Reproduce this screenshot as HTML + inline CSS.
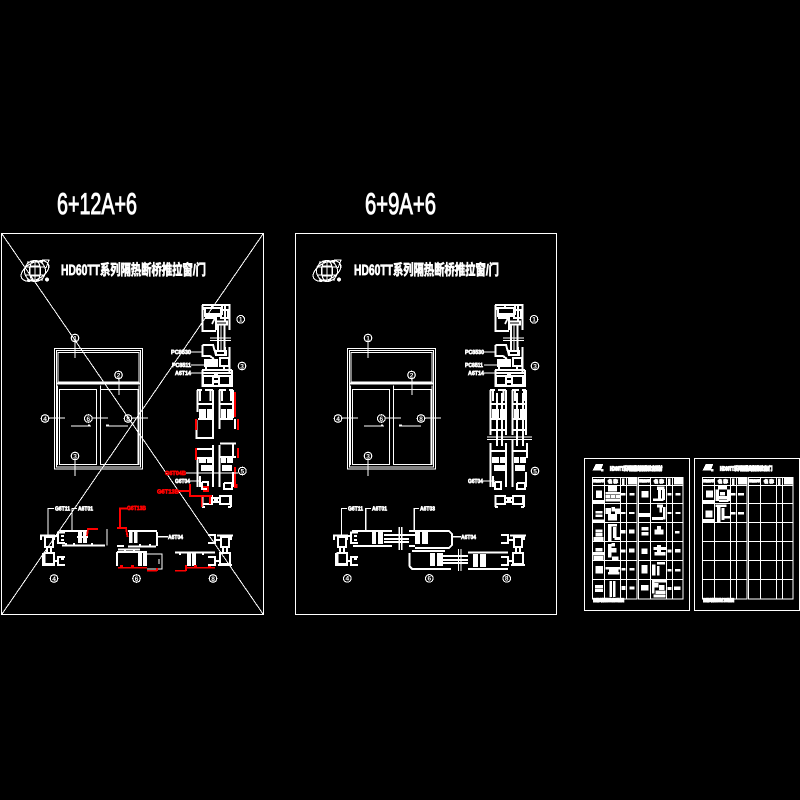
<!DOCTYPE html>
<html><head><meta charset="utf-8"><style>
html,body{margin:0;padding:0;background:#000}
svg{display:block}
svg *{shape-rendering:crispEdges}
.w{stroke:#fff;fill:none;stroke-width:1.2}
.t{stroke:#fff;fill:none;stroke-width:2}
.r{stroke:#f00;fill:none;stroke-width:1.8}
.thin{stroke:#fff;fill:none;stroke-width:1.1}
.ff{fill:#fff;stroke:none}
.rf{fill:#f00;stroke:none}
.blob path,.hb{fill:#fff;stroke:#fff;stroke-width:2.5}
text{font-family:"Liberation Sans","Noto Sans CJK SC",sans-serif;text-rendering:geometricPrecision}
.lb{font-size:6px;font-weight:bold;fill:#fff;stroke:#fff;stroke-width:.7}
.lr{font-size:6px;font-weight:bold;fill:#f00;stroke:#f00;stroke-width:.7}
.d{font-size:6.5px;font-weight:bold;fill:#fff;text-anchor:middle}
.ti{font-size:15px;font-weight:bold;fill:#fff;stroke:#fff;stroke-width:.7}
.big{font-size:30px;fill:#fff;stroke:#fff;stroke-width:1}
</style></head><body>
<svg width="800" height="800" viewBox="0 0 800 800" xmlns="http://www.w3.org/2000/svg">
<defs>
<g id="logo">
<ellipse cx="35" cy="271" rx="15" ry="8.500" transform="rotate(-28 35 271)" class="thin"/>
<circle cx="35" cy="271" r="10.500" class="thin"/>
<ellipse cx="35" cy="271" rx="5.500" ry="10.500" class="thin"/>
<path class="thin" d="M25 267H45M25 275H45M35 260V282M30 266H40V276H30ZM42 260H49L46 268M27 262H43M27 280H43"/>
<circle cx="47" cy="279.500" r="2" class="ff"/>
</g>
<g id="win">
<rect x="54.500" y="348.500" width="88" height="120.500" class="w"/>
<rect x="56.500" y="350.500" width="84" height="116.500" class="w"/>
<rect x="58" y="352.500" width="81" height="29.500" class="w"/>
<path class="t" d="M56 383.500H140"/>
<path class="w" d="M57.500 385.500V465M139 385.500V465M100.500 385.500V465"/>
<rect x="59.500" y="389.500" width="37" height="75" class="w"/>
<path class="w" d="M100.500 389.500H138V464.500H100.500"/>
<path class="w" d="M71 426H91M106 426H128"/>
<rect x="106" y="424.500" width="3" height="1.500" class="ff"/><rect x="88" y="424.500" width="2" height="1.500" class="ff"/>
<g class="thin">
<path d="M75 342V358M119 379V395M49 418H65M92 418H108M132 418H148M75 460V476"/>
<circle cx="75" cy="338" r="3.800"/><circle cx="118.500" cy="375" r="3.800"/><circle cx="45" cy="418.500" r="3.800"/>
<circle cx="88.300" cy="418.500" r="3.800"/><circle cx="128" cy="418.500" r="3.800"/><circle cx="75" cy="456" r="3.800"/>
</g>
<text class="d" x="75" y="340.300">1</text><text class="d" x="118.500" y="377.300">2</text><text class="d" x="45" y="420.800">4</text>
<text class="d" x="88.300" y="420.800">6</text><text class="d" x="128" y="420.800">8</text><text class="d" x="75" y="458.300">3</text>
</g>
<g id="head">
<path class="t" d="M202.500 305V331H216M202 305H229M229.500 304V330M225 305V322M204 307V310M212 304V307M222 304V307"/>
<rect x="205" y="308" width="17" height="6" class="t"/>
<path class="t" d="M205 318H216V330M204 316H222M216 316L212 324"/>
<rect x="221" y="310" width="7" height="8" class="t"/>
<rect x="216" y="321.500" width="11" height="3" class="t"/>
<path class="w" d="M210 338H231M210 340.500H231"/>
<path class="t" d="M218 324V352M224.500 324V352"/>
<path class="w" d="M221 324V352"/>
<rect x="216" y="351" width="10" height="4" class="t"/>
<path class="t" d="M202.500 345H213L216 355M202.500 345V356H210L214 359"/>
<rect x="204" y="359" width="14" height="8" class="ff"/>
<path class="t" d="M229.500 347V372M225 347V355"/>
<rect x="220" y="358" width="9" height="8" class="t"/>
<path class="t" d="M202 370H232M202 373H232M202.500 370V387M232 370V387"/>
<rect x="203" y="376" width="10" height="9" class="t"/>
<rect x="219" y="376" width="11" height="9" class="t"/>
<rect x="214" y="374" width="4" height="4" class="ff"/><rect x="214" y="380" width="4" height="3" class="ff"/>
<path class="t" d="M203 386H232M206 367V370M224 367V370"/>
</g>
<g id="sashU">
<path class="t" d="M197 390H202M205 390H213M197.500 390V412M213 390V418M219.500 390V400M219 390H226M229 390H233M233 390V418"/>
<path class="t" d="M200 390V401M210.500 390V401M222 390V401M231 390V401"/>
<rect x="199" y="409" width="7" height="9" class="ff"/><rect x="207" y="409" width="6" height="9" class="ff"/>
<rect x="221" y="409" width="5" height="9" class="ff"/><rect x="227" y="409" width="6" height="9" class="ff"/>
<path class="t" d="M198 404H213M220 404H233M198 419H213M220 419H233"/>
</g>
<g id="sashL">
<rect x="199" y="457" width="7" height="6" class="ff"/><rect x="207" y="457" width="6" height="6" class="ff"/>
<rect x="221" y="457" width="5" height="6" class="ff"/><rect x="227" y="457" width="6" height="6" class="ff"/>
<rect x="201" y="465" width="11" height="6" class="ff"/><rect x="222" y="465" width="10" height="6" class="ff"/>
<path class="t" d="M197.500 458V487M213 445V487M219.500 445V487M200 476V487M233 472V487"/>
<path class="t" d="M202 482V489H208V482H202M224 483V489H232V483H224"/>
</g>
<g id="base">
<rect x="202.500" y="496" width="9.500" height="8" class="t"/><rect x="220" y="496" width="10" height="8" class="t"/>
<path class="t" d="M212 498H220M212 502H220M202 507H205M228 507H231M231 495V507M202.500 495V507"/>
<rect x="214" y="497" width="4" height="6" class="ff"/>
</g>
<g id="frm">
<path class="t" d="M40 535.500H55M41 535.500V540M54 535.500V540M45 537H53V547H45Z"/>
<rect x="44.500" y="553" width="9.500" height="11" class="t"/>
<path class="t" d="M47 547V553M51 547V553M42 565H55M43 553V565"/>
<path class="t" d="M54 536H58M54 561H58"/>
<path class="t" d="M65 532.500H58V543H65M61 536H64M61 540H64M65 557H58V565H65M61 559H64"/>
</g>
<g id="frmR">
<path class="t" d="M217 535.500H233M221 537H229V547H221Z"/>
<rect x="220" y="553" width="10" height="11" class="t"/>
<path class="t" d="M223 547V553M227 547V553M218 565H232M231 535.500V540"/>
<path class="t" d="M216 540H220M216 561H220"/>
<path class="t" d="M208 535H215V543H208M208 557H215V565H208"/>
</g>
<g id="tblc">
<text x="40" y="81" font-size="9" font-weight="bold" fill="#fff" stroke="#fff" stroke-width="3" textLength="32" lengthAdjust="spacingAndGlyphs">型材图号</text>
<text x="84" y="84" font-size="13" font-weight="bold" fill="#fff" stroke="#fff" stroke-width="3">名 称</text>
<text x="178" y="81" font-size="9" font-weight="bold" fill="#fff" stroke="#fff" stroke-width="3" textLength="32" lengthAdjust="spacingAndGlyphs">型材图号</text>
<text x="222" y="84" font-size="13" font-weight="bold" fill="#fff" stroke="#fff" stroke-width="3">名 称</text>
<path class="hb" d="M128 72h5v18h-5zM266 72h5v18h-5zM146 70h22v18h-22zM284 70h22v18h-22z"/>
<path class="hb" d="M40 45L48 28H68L62 45ZM64 48H70V44H64Z"/>
</g>
</defs>

<rect width="800" height="800" fill="#000"/>

<text class="big" x="57" y="214" textLength="80" lengthAdjust="spacingAndGlyphs">6+12A+6</text>
<text class="big" x="365" y="214" textLength="71" lengthAdjust="spacingAndGlyphs">6+9A+6</text>

<!-- Frame 1 -->
<rect x="1.500" y="233.500" width="262" height="381" class="w"/>
<path d="M2 234L263 614M263 234L2 614" stroke="#fff" stroke-width="1" fill="none"/>
<use href="#logo"/>
<text class="ti" x="61" y="275" textLength="145" lengthAdjust="spacingAndGlyphs">HD60TT系列隔热断桥推拉窗/门</text>
<use href="#win"/>
<use href="#head"/>
<use href="#sashU"/>
<path class="t" d="M196.500 420V438H213V418M235 419V429M219.500 400V429"/>
<use href="#sashL"/>
<path class="t" d="M197 449H213M220 443.500H236M220 457H236M197 458H213M233 443V458"/>
<path class="r" d="M196 419V430M238 419V430M235 392V417M196 448V460M238 448V458"/>
<path class="r" d="M235 467V487"/>
<rect x="234" y="484" width="3.500" height="4" class="rf"/>
<use href="#base"/>
<path class="w" d="M186 473H238M190 481H201"/>
<path class="r" d="M179 491H190M190 484V496H212M201.700 497V507M203 487H208V491H203M210 496V504"/>
<text class="lr" x="165" y="475" textLength="21" lengthAdjust="spacingAndGlyphs">G6T04B</text>
<text class="lb" x="175" y="483" textLength="15" lengthAdjust="spacingAndGlyphs">G6T04</text>
<text class="lr" x="157" y="493.500" textLength="22" lengthAdjust="spacingAndGlyphs">G6T13B</text>
<path class="thin" d="M191 352H202M191 365H204M191 373H204"/>
<text class="lb" x="171" y="354" textLength="20" lengthAdjust="spacingAndGlyphs">PC8530</text>
<text class="lb" x="172" y="367" textLength="19" lengthAdjust="spacingAndGlyphs">PC8511</text>
<text class="lb" x="175" y="375" textLength="16" lengthAdjust="spacingAndGlyphs">A6T14</text>
<g class="thin"><circle cx="240.700" cy="319.300" r="3.800"/><circle cx="242" cy="366" r="3.800"/><circle cx="242.300" cy="471" r="3.800"/>
<circle cx="54" cy="578.500" r="3.800"/><circle cx="136.500" cy="578.500" r="3.800"/><circle cx="213" cy="578.500" r="3.800"/></g>
<text class="d" x="240.700" y="321.600">1</text><text class="d" x="242" y="368.300">3</text><text class="d" x="242.300" y="473.300">5</text>
<text class="d" x="54" y="580.800">4</text><text class="d" x="136.500" y="580.800">6</text><text class="d" x="213" y="580.800">8</text>

<!-- Frame 1 horizontal sections -->
<use href="#frm"/>
<path class="w" d="M48 535V508.500H54M72 531V508.500H77"/>
<text class="lb" x="55" y="510.500" textLength="15" lengthAdjust="spacingAndGlyphs">G6T11</text>
<text class="lb" x="78" y="510.500" textLength="15" lengthAdjust="spacingAndGlyphs">A6T01</text>
<path class="t" d="M60 531H87M62 545.500H105M66 543V546M74 543V546M92 543V546"/>
<path class="w" d="M107 529V545.500M88 529V531"/>
<rect x="78" y="532" width="4" height="11" class="ff"/><rect x="83" y="532" width="4" height="11" class="ff"/>
<path class="t" d="M77 537H88"/>
<path class="r" d="M87 536L88 529H98"/>
<path class="r" d="M120 528V508.500H127M117 528H126L127.500 537"/>
<text class="lr" x="127" y="510" textLength="19" lengthAdjust="spacingAndGlyphs">G6T13B</text>
<path class="t" d="M128 531H157M157 532V546M128 546.500H156M117 546H124M140 544V547M150 544V547"/>
<rect x="129" y="532" width="3.500" height="11" class="ff"/><rect x="134" y="532" width="3.500" height="11" class="ff"/>
<path class="w" d="M157 536.700H168"/>
<text class="lb" x="168" y="539" textLength="15" lengthAdjust="spacingAndGlyphs">A6T04</text>
<path class="t" d="M117 552V566M117 552H147M118 549.500H140M125 549V552M134 549V552"/>
<rect x="138" y="553" width="4" height="13" class="ff"/><rect x="143" y="553" width="4" height="13" class="ff"/>
<path class="w" d="M147 554H162V569H147M159 559V564"/>
<path class="r" d="M118 567.700H147M147 570.700H157M157 568V571"/>
<rect x="120" y="565" width="3" height="3" class="rf"/><rect x="131" y="565" width="3" height="3" class="rf"/>
<path class="t" d="M175 552.700H215M180 552V555M203 552V555"/>
<rect x="187" y="553" width="4" height="13" class="ff"/><rect x="192" y="553" width="4" height="13" class="ff"/>
<path class="r" d="M185 567.700H215M175 570.700H186M186 565V571"/>
<rect x="194" y="565" width="3" height="3" class="rf"/><rect x="208" y="565" width="3" height="3" class="rf"/>
<use href="#frmR"/>

<!-- Frame 2 -->
<rect x="295.500" y="233.500" width="261" height="381" class="w"/>
<use href="#logo" transform="translate(292,0)"/>
<text class="ti" x="354" y="275" textLength="145" lengthAdjust="spacingAndGlyphs">HD60TT系列隔热断桥推拉窗/门</text>
<use href="#win" transform="translate(293,0)"/>
<use href="#head" transform="translate(293,0)"/>
<use href="#sashU" transform="translate(293,0)"/>
<use href="#sashL" transform="translate(293,0)"/>
<path class="t" d="M497 393V446M502 393V446M517 393V446M523 393V446"/>
<path class="w" d="M487 437H532M487 439.500H532"/>
<path class="t" d="M490.500 412V435M506 418V435M512.500 400V435M526 418V435M490.500 443V458M506 443V458M512.500 440V458M527 443V458M491 451H506M513 451H527M491 430H506M513 430H527"/>
<use href="#base" transform="translate(293,0)"/>
<path class="thin" d="M484 352H495M484 365H497M484 373H497M483 481H495"/>
<text class="lb" x="465" y="354" textLength="19" lengthAdjust="spacingAndGlyphs">PC8530</text>
<text class="lb" x="465" y="367" textLength="18" lengthAdjust="spacingAndGlyphs">PC8511</text>
<text class="lb" x="468" y="375" textLength="16" lengthAdjust="spacingAndGlyphs">A6T14</text>
<text class="lb" x="468" y="483" textLength="15" lengthAdjust="spacingAndGlyphs">G6T04</text>
<g class="thin"><circle cx="534" cy="319.300" r="3.800"/><circle cx="535" cy="366" r="3.800"/><circle cx="535" cy="471" r="3.800"/>
<circle cx="347.300" cy="578.400" r="3.800"/><circle cx="429.300" cy="578.400" r="3.800"/><circle cx="506.700" cy="578.400" r="3.800"/></g>
<text class="d" x="534" y="321.600">1</text><text class="d" x="535" y="368.300">3</text><text class="d" x="535" y="473.300">5</text>
<text class="d" x="347.300" y="580.700">4</text><text class="d" x="429.300" y="580.700">6</text><text class="d" x="506.700" y="580.700">8</text>

<!-- Frame 2 horizontal sections -->
<use href="#frm" transform="translate(293,0)"/>
<path class="w" d="M341.500 535V508.500H347M365.700 531V508.500H371M414.300 531V508.500H419"/>
<text class="lb" x="348" y="510.500" textLength="15" lengthAdjust="spacingAndGlyphs">G6T11</text>
<text class="lb" x="372" y="510.500" textLength="15" lengthAdjust="spacingAndGlyphs">A6T01</text>
<text class="lb" x="420" y="510.500" textLength="15" lengthAdjust="spacingAndGlyphs">A6T03</text>
<path class="t" d="M352 531H392M353 546H392"/>
<rect x="372" y="532" width="4" height="12" class="ff"/><rect x="378" y="532" width="5" height="12" class="ff"/>
<path class="t" d="M384 535H409M384 539H409M384 542H409M409 535H415"/>
<path class="w" d="M399.300 527V550M401.700 527V550"/>
<path class="t" d="M409 531H449L452 534V545L449 548H415M409 546H415"/>
<rect x="415" y="532" width="5" height="12" class="ff"/><rect x="422" y="532" width="6" height="12" class="ff"/>
<path class="w" d="M452 536.700H461"/>
<text class="lb" x="461" y="539" textLength="15" lengthAdjust="spacingAndGlyphs">A6T04</text>
<path class="t" d="M409.500 553V566L412 569H451M412 551H445"/>
<rect x="430" y="553" width="5" height="13" class="ff"/><rect x="437" y="553" width="6" height="13" class="ff"/>
<path class="t" d="M443 556H468M443 560H468M443 563H468"/>
<path class="w" d="M458.500 549V571M461 549V571"/>
<path class="t" d="M468 552.500H508M468 569H508"/>
<rect x="473" y="554" width="5" height="13" class="ff"/><rect x="480" y="554" width="6" height="13" class="ff"/>
<use href="#frmR" transform="translate(293,0)"/>

<!-- Sheets -->
<rect x="584.500" y="458.500" width="105" height="152" class="w"/>
<rect x="694.500" y="458.500" width="105" height="152" class="w"/>
<g id="tbl">
<g class="w">
<rect x="592.500" y="477.500" width="44.500" height="121.500"/>
<rect x="638.500" y="477.500" width="44.500" height="121.500"/>
<path d="M592.500 485.500H637M592.500 503.500H637M592.500 522.500H637M592.500 541.500H637M592.500 560.500H637M592.500 579.500H637"/>
<path d="M638.500 485.500H683M638.500 503.500H683M638.500 522.500H683M638.500 541.500H683M638.500 560.500H683M638.500 579.500H683"/>
<path d="M604.500 477.500V599M620.500 477.500V599M626.500 477.500V599M650.500 477.500V599M666.500 477.500V599M672.500 477.500V599"/>
</g>
</g>
<use href="#tbl" transform="translate(110,0)"/>

<g transform="translate(580,455) scale(.33333)" class="blob">
<text x="90" y="46" font-size="17" font-weight="bold" fill="#fff" stroke="#fff" stroke-width="4" textLength="157" lengthAdjust="spacingAndGlyphs">HD60TT系列隔热断桥推拉窗型材</text>
<use href="#tblc"/>
<path d="M50 108h15v20h-15zM40 137h32v8h-32zM48 170h18v5h-18zM48 180h18v5h-18zM40 195h32v8h-32zM48 225h18v7h-18zM48 236h18v8h-18zM42 248h28v12h-28zM48 280h18v8h-18zM38 293h34v8h-34zM42 304h28v11h-28zM48 335h20v20h-20zM46 392h22v7h-22zM46 403h22v7h-22z"/>
<path d="M85 95h25v14h-25zM78 112h42v6h-42zM78 122h12v6h-12zM94 122h12v6h-12zM110 122h10v6h-10zM78 132h42v6h-42zM78 160h14v16h-14zM96 158h8v10h-8zM106 162h14v14h-14zM85 178h25v8h-25zM85 188h25v7h-25zM85 208h8v50h-8zM100 218h8v30h-8zM93 208h17v5h-17zM105 248h15v6h-15zM85 268h8v38h-8zM96 265h8v8h-8zM96 280h12v12h-12zM98 306h16v9h-16zM78 338h42v5h-42zM88 345h26v5h-26zM85 352h32v6h-32zM90 380h5v45h-5zM100 380h5v45h-5z"/>
<path d="M125 115h10v5h-10zM150 115h12v5h-12zM125 172h10v4h-10zM148 172h14v4h-14zM125 227h10v7h-10zM148 225h14v9h-14zM125 285h10v6h-10zM148 282h14v9h-14zM126 340h9v6h-9zM150 340h12v5h-12zM126 395h9v9h-9zM150 396h12v6h-12z"/>
<path d="M186 110h18v16h-18zM178 175h32v10h-32zM186 218h18v8h-18zM186 232h18v8h-18zM186 282h16v6h-16zM186 290h16v6h-16zM186 332h16v22h-16zM184 392h20v14h-20z"/>
<path d="M232 96h20v8h-20zM236 104h6v30h-6zM248 104h6v30h-6zM220 132h30v5h-30zM232 150h16v6h-16zM240 156h5v16h-5zM250 158h6v34h-6zM218 188h30v6h-30zM232 215h10v22h-10zM225 225h25v12h-25zM222 278h38v6h-38zM232 272h10v28h-10zM225 292h30v8h-30zM218 330h8v30h-8zM232 322h22v6h-22zM232 335h6v25h-6zM218 375h42v6h-42zM222 385h12v12h-12zM238 392h14v12h-14zM228 408h28v8h-28zM222 420h34v6h-34zM218 375h5v40h-5z"/>
<path d="M264 115h9v5h-9zM288 115h12v5h-12zM264 172h9v4h-9zM288 172h12v4h-12zM286 230h12v4h-12zM264 285h9v6h-9zM286 284h14v7h-14zM264 344h9v4h-9zM286 344h14v4h-14zM264 398h9v6h-9zM284 396h16v8h-16z"/>
<text x="40" y="440" font-size="11" font-weight="bold" fill="#fff" stroke="#fff" stroke-width="4" textLength="92" lengthAdjust="spacingAndGlyphs">隔热断桥推拉窗型材图</text>
</g>

<g transform="translate(690,455) scale(.33333)" class="blob">
<text x="90" y="46" font-size="17" font-weight="bold" fill="#fff" stroke="#fff" stroke-width="4" textLength="157" lengthAdjust="spacingAndGlyphs">HD60TT系列隔热断桥推拉窗/门</text>
<use href="#tblc"/>
<path d="M50 108h18v18h-18zM40 137h32v8h-32zM48 168h18v18h-18zM40 194h32v8h-32z"/>
<path d="M85 95h25v8h-25zM78 105h8v32h-8zM112 105h8v32h-8zM92 112h12v8h-12zM84 125h30v6h-30zM88 135h26v5h-26zM78 150h30v5h-30zM82 155h8v46h-8zM96 160h6v34h-6zM102 185h18v5h-18z"/>
<path d="M125 115h10v5h-10zM145 115h16v5h-16zM125 172h10v5h-10zM145 172h16v5h-16z"/>
<text x="40" y="440" font-size="11" font-weight="bold" fill="#fff" stroke="#fff" stroke-width="4" textLength="92" lengthAdjust="spacingAndGlyphs">隔热断桥推拉门型材图</text>
</g>
</svg>
</body></html>
